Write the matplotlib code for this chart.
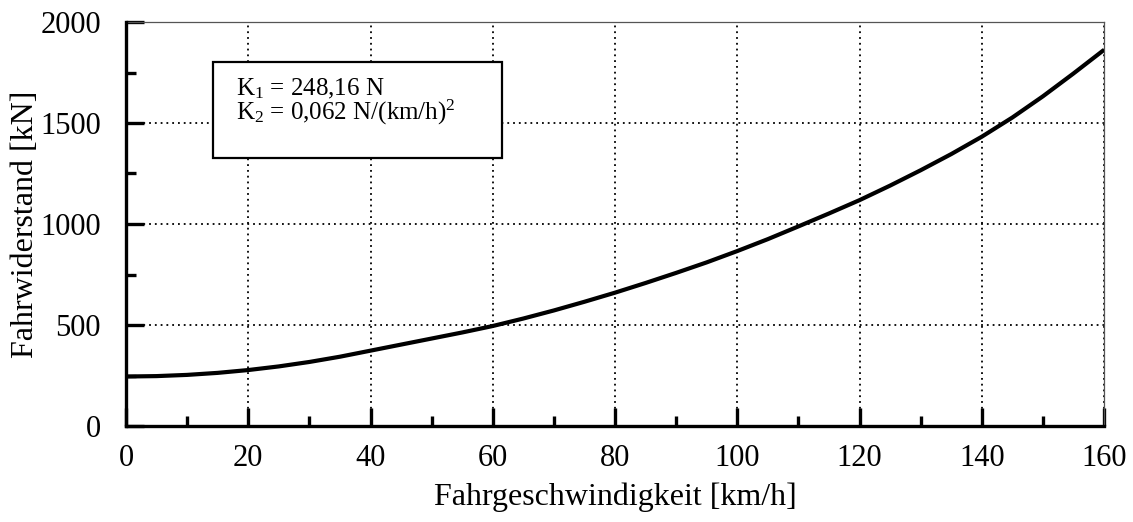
import matplotlib
matplotlib.use("Agg")
import matplotlib.pyplot as plt
import matplotlib.patches as mpatches
from matplotlib.ticker import MultipleLocator

plt.rcParams["font.family"] = ["Liberation Serif", "DejaVu Serif"]
plt.rcParams["mathtext.fontset"] = "custom"
plt.rcParams["mathtext.rm"] = "Liberation Serif"
plt.rcParams["mathtext.it"] = "Liberation Serif:italic"

# ── Data ─────────────────────────────────────────────────────────────────────
speed = [0, 5, 10, 15, 20, 25, 30, 35, 40, 45, 50, 55, 60, 65, 70, 75, 80,
         85, 90, 95, 100, 105, 110, 115, 120, 125, 130, 135, 140, 145, 150,
         155, 160]
resistance = [245, 247, 253, 263, 277, 295, 317, 343, 373, 403, 433, 463,
              495, 532, 572, 615, 660, 708, 758, 810, 866, 925, 988, 1052,
              1118, 1190, 1266, 1346, 1432, 1527, 1632, 1745, 1862]

x_ticks = [0, 20, 40, 60, 80, 100, 120, 140, 160]
y_ticks = [0, 500, 1000, 1500, 2000]

line1 = r"K$_\mathrm{1}$ = 248,16 N"
line2 = r"K$_\mathrm{2}$ = 0,062 N/(km/h)$^\mathrm{2}$"

# ── Plot ─────────────────────────────────────────────────────────────────────
fig = plt.figure(figsize=(11.33, 5.22), dpi=100)
ax = fig.add_axes([126 / 1133, 1 - 426 / 522, (1104 - 126) / 1133, (426 - 22) / 522])

ax.plot(speed, resistance, color="black", lw=3.0, zorder=4, solid_capstyle="butt")

ax.set_xlim(0, 160)
ax.set_ylim(0, 2000)
ax.set_xticks(x_ticks)
ax.set_yticks(y_ticks)
ax.xaxis.set_minor_locator(MultipleLocator(10))
ax.yaxis.set_minor_locator(MultipleLocator(250))

ax.grid(True, which="major", color="black", lw=1.3, ls=(0, (1, 2.2)))
ax.set_axisbelow(True)

for side in ("left", "bottom"):
    ax.spines[side].set_linewidth(2.4)
    ax.spines[side].set_zorder(5)
for side in ("top", "right"):
    ax.spines[side].set_linewidth(0.9)
    ax.spines[side].set_color("#555555")

ax.tick_params(which="major", direction="in", length=13, width=2.4,
               labelsize=22, top=False, right=False)
ax.tick_params(which="minor", direction="in", length=7, width=2.4,
               top=False, right=False)
ax.tick_params(axis="y", which="major", pad=18)
ax.tick_params(axis="x", which="major", pad=13)

ax.set_xlabel("Fahrgeschwindigkeit [km/h]", fontsize=23, labelpad=7)
ax.set_ylabel("Fahrwiderstand [kN]", fontsize=23, labelpad=0)

# parameter box
ax.add_patch(mpatches.Rectangle((14.2, 1327), 47.3, 475, facecolor="white",
                                edgecolor="black", lw=1.6, zorder=3))
ax.text(18.0, 1639, line1, fontsize=18, ha="left", va="baseline", zorder=4)
ax.text(18.0, 1515, line2, fontsize=18, ha="left", va="baseline", zorder=4)

fig.savefig("out.png", dpi=100)
